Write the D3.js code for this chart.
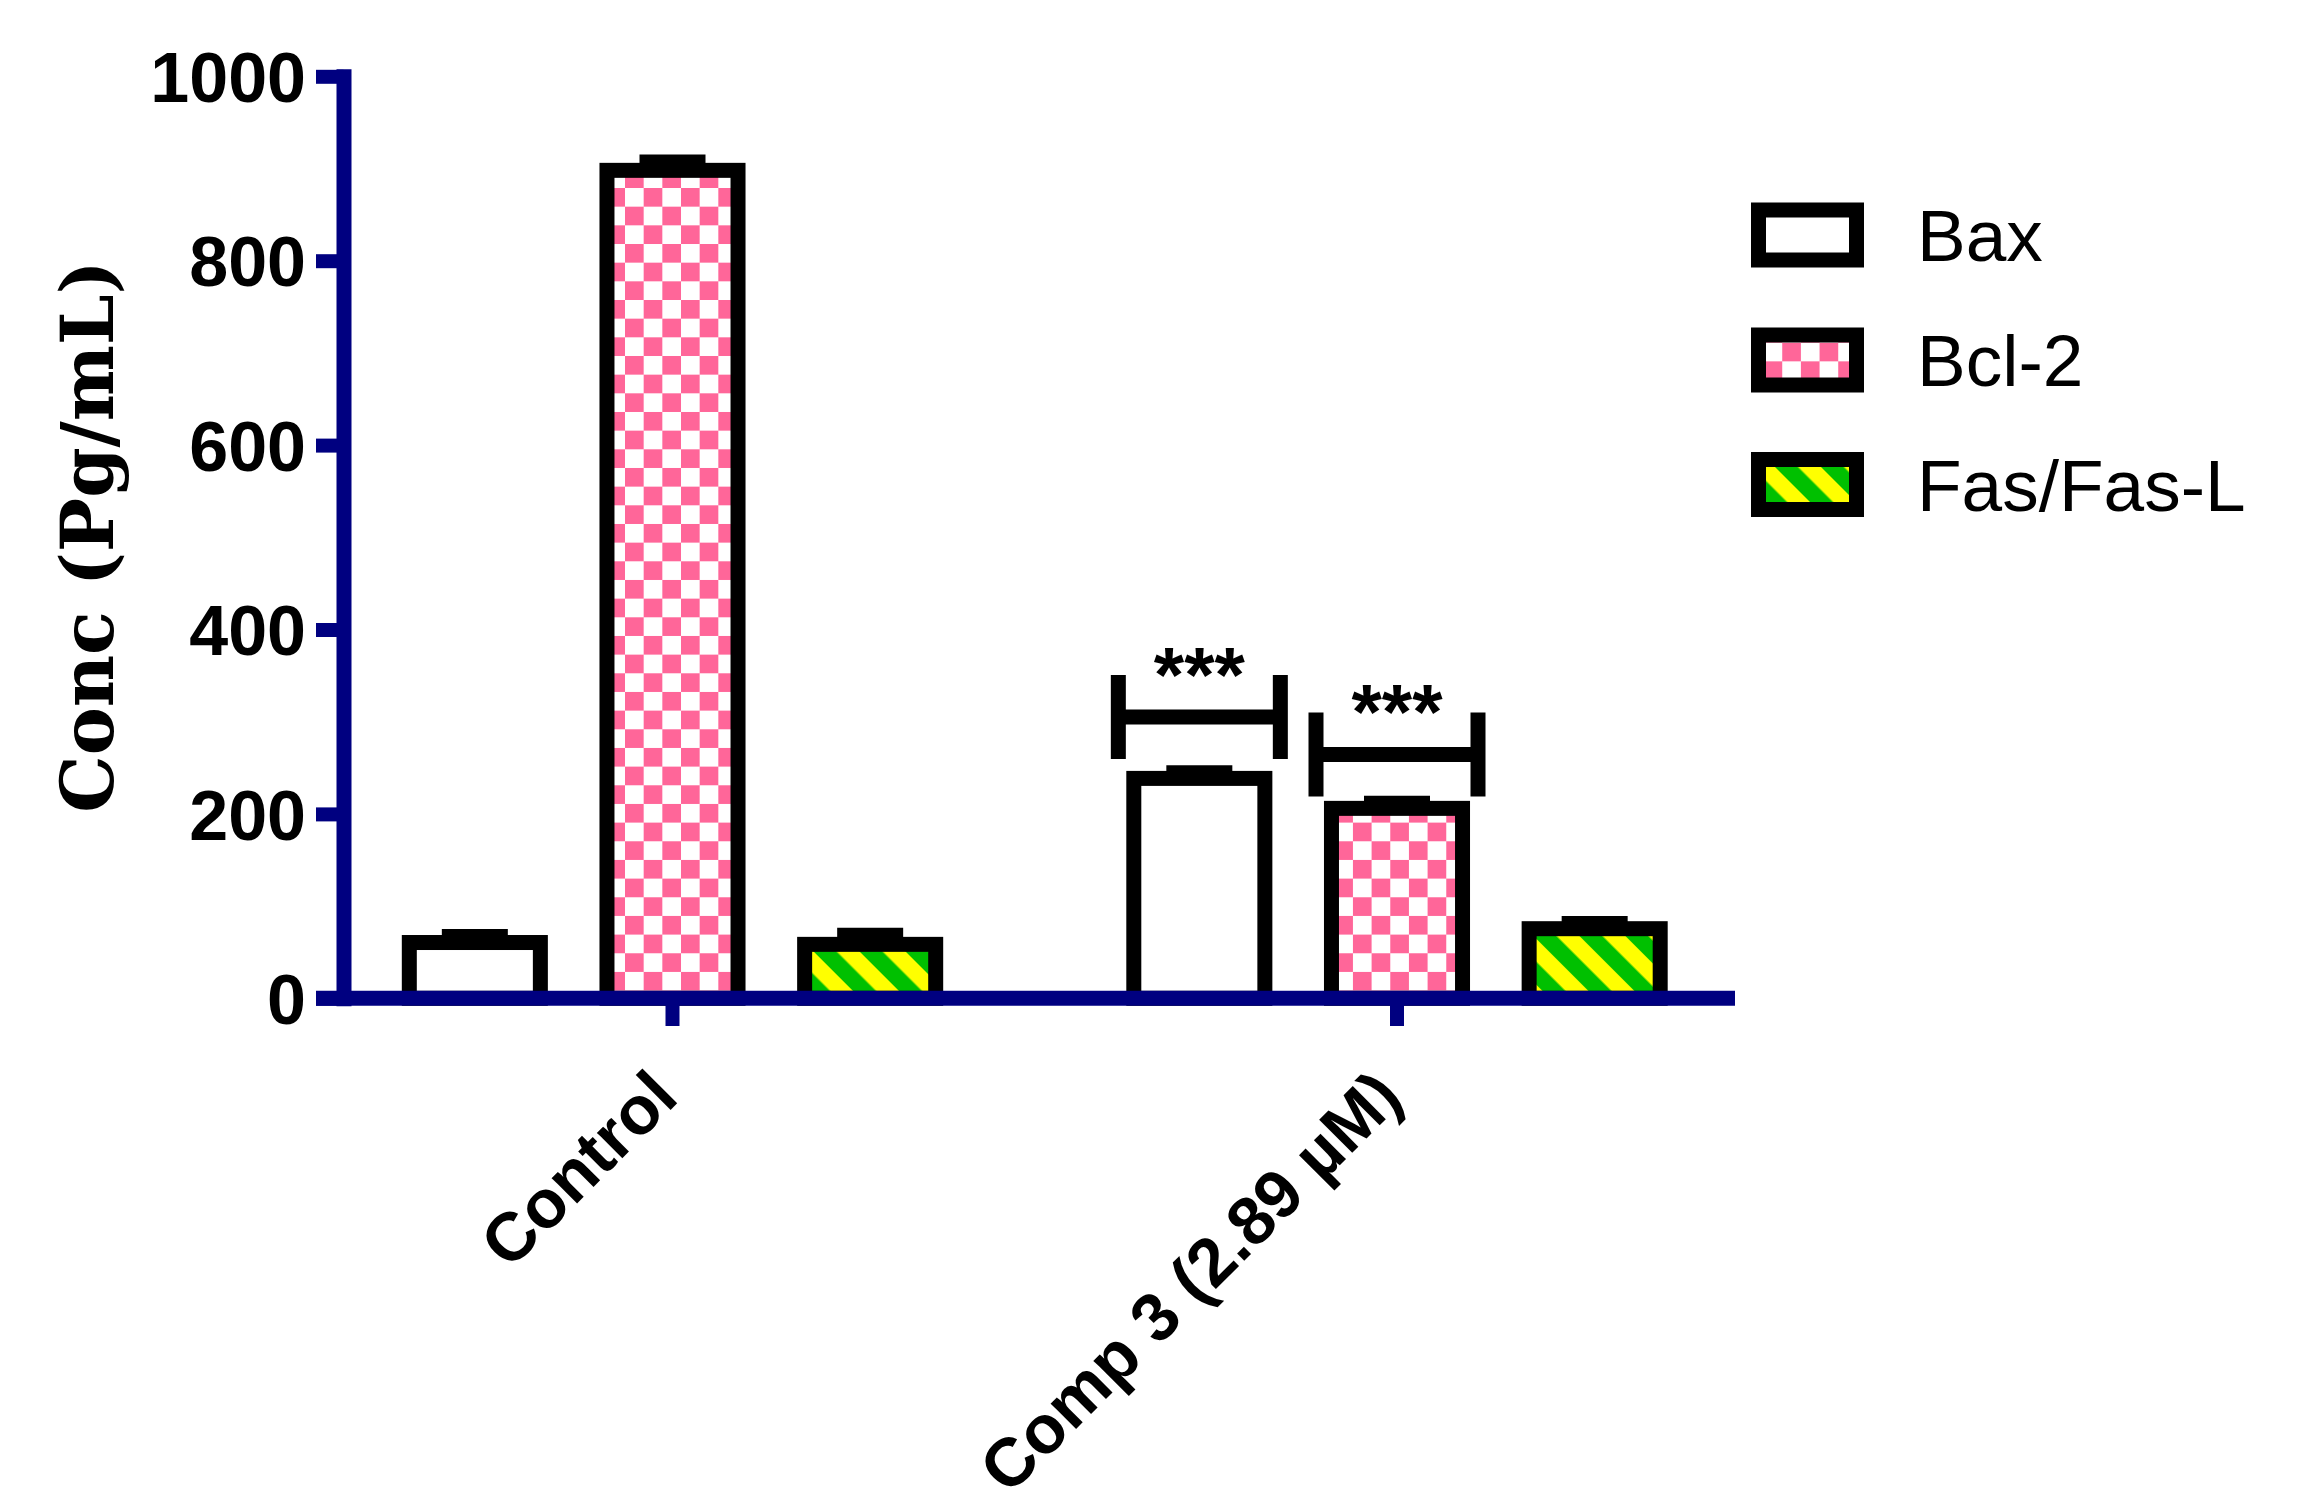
<!DOCTYPE html>
<html>
<head>
<meta charset="utf-8">
<script src="https://cdnjs.cloudflare.com/ajax/libs/d3/7.8.5/d3.min.js"></script>
<style>
  body { margin: 0; background: #fff; }
</style>
</head>
<body>
<div id="chart"></div>
<script>
// chart data
var groups = ["Control", "Comp 3 (2.89 µM)"];
var series = ["Bax", "Bcl-2", "Fas/Fas-L"];
var baxValues = [60.5, 238.5];
var bcl2Values = [898, 206];
var fasValues = [58.5, 75.5];
var baxErrors = [6.5, 6];
var bcl2Errors = [9, 5.5];
var fasErrors = [10, 5.5];
var yTicks = [0, 200, 400, 600, 800, 1000];
// significance brackets: group, series, height (data units), label
var sigGroups = ["Comp 3 (2.89 µM)", "Comp 3 (2.89 µM)"];
var sigSeries = ["Bax", "Bcl-2"];
var sigLevels = [305, 264.5];
var sigLabels = ["***", "***"];

var svgWidth = 2305;
var svgHeight = 1509;

var navy = "#000080";

var svg = d3.select("#chart")
  .append("svg")
  .attr("width", svgWidth)
  .attr("height", svgHeight)
  .style("background", "#fff");

// patterns for the bar fills
var defs = svg.append("defs");

var checker = defs.append("pattern")
  .attr("id", "checker")
  .attr("patternUnits", "userSpaceOnUse")
  .attr("x", 625)
  .attr("y", 188)
  .attr("width", 37.33)
  .attr("height", 37.33);
checker.append("rect").attr("width", 37.33).attr("height", 37.33).attr("fill", "#fff");
checker.append("rect").attr("x", 18.67).attr("y", 0).attr("width", 18.67).attr("height", 18.67).attr("fill", "#ff6699");
checker.append("rect").attr("x", 0).attr("y", 18.67).attr("width", 18.67).attr("height", 18.67).attr("fill", "#ff6699");

var stripes = defs.append("pattern")
  .attr("id", "stripes")
  .attr("patternUnits", "userSpaceOnUse")
  .attr("width", 32.5)
  .attr("height", 32.5)
  .attr("patternTransform", "rotate(-45)");
stripes.append("rect").attr("width", 32.5).attr("height", 32.5).attr("fill", "#ffff00");
stripes.append("rect").attr("width", 16.25).attr("height", 32.5).attr("fill", "#00c000");

var fills = {"Bax": "#fff", "Bcl-2": "url(#checker)", "Fas/Fas-L": "url(#stripes)"};

// build rows from the arrays
var valuesBySeries = {"Bax": baxValues, "Bcl-2": bcl2Values, "Fas/Fas-L": fasValues};
var errorsBySeries = {"Bax": baxErrors, "Bcl-2": bcl2Errors, "Fas/Fas-L": fasErrors};
var rows = [];
groups.forEach(function(g, i) {
  series.forEach(function(s) {
    rows.push({group: g, series: s, value: valuesBySeries[s][i], error: errorsBySeries[s][i]});
  });
});

// scales
var yScale = d3.scaleLinear()
  .domain([0, 1000])
  .range([998.3, 76.3]);

var x0 = d3.scaleBand()
  .domain(groups)
  .range([310.25, 1759.25]);

var x1 = d3.scaleBand()
  .domain(series)
  .range([-296.5, 296.5])
  .paddingInner(0.337)
  .paddingOuter(0.1685);

function barCenter(g, s) {
  return x0(g) + x0.bandwidth() / 2 + x1(s) + x1.bandwidth() / 2;
}

// bars
svg.append("g")
  .selectAll("rect")
  .data(rows)
  .enter()
  .append("rect")
  .attr("x", d => barCenter(d.group, d.series) - x1.bandwidth() / 2)
  .attr("y", d => yScale(d.value))
  .attr("width", x1.bandwidth())
  .attr("height", d => yScale(0) - yScale(d.value))
  .attr("fill", d => fills[d.series])
  .attr("stroke", "#000")
  .attr("stroke-width", 15);

// error bars (upper only)
var errGroup = svg.append("g")
  .attr("stroke", "#000")
  .attr("stroke-width", 15);

errGroup.selectAll(".err-v")
  .data(rows)
  .enter()
  .append("line")
  .attr("x1", d => barCenter(d.group, d.series))
  .attr("x2", d => barCenter(d.group, d.series))
  .attr("y1", d => yScale(d.value))
  .attr("y2", d => yScale(d.value + d.error));

errGroup.selectAll(".err-cap")
  .data(rows)
  .enter()
  .append("line")
  .attr("x1", d => barCenter(d.group, d.series) - 33)
  .attr("x2", d => barCenter(d.group, d.series) + 33)
  .attr("y1", d => yScale(d.value + d.error))
  .attr("y2", d => yScale(d.value + d.error));

// y axis
var leftAxis = d3.axisLeft(yScale)
  .tickValues(yTicks)
  .tickFormat(d3.format("d"))
  .tickSize(27.5)
  .tickSizeOuter(0)
  .tickPadding(10);

var yAxis = svg.append("g")
  .attr("transform", "translate(343.5, 0)")
  .call(leftAxis);

yAxis.select(".domain")
  .attr("stroke", navy)
  .attr("stroke-width", 15)
  .attr("stroke-linecap", "square");
yAxis.selectAll(".tick line")
  .attr("stroke", navy)
  .attr("stroke-width", 14);
yAxis.selectAll(".tick text")
  .attr("dy", "0.36em")
  .attr("fill", "#000")
  .style("font-family", "'Liberation Sans', Arial, sans-serif")
  .style("font-weight", "bold")
  .style("font-size", "70px");

// x axis line + category ticks
svg.append("line")
  .attr("x1", 316)
  .attr("x2", 1735)
  .attr("y1", yScale(0))
  .attr("y2", yScale(0))
  .attr("stroke", navy)
  .attr("stroke-width", 15);

var bottomAxis = d3.axisBottom(x0)
  .tickSize(27.7)
  .tickFormat("");

var xAxis = svg.append("g")
  .attr("transform", `translate(0, ${yScale(0)})`)
  .call(bottomAxis);
xAxis.select(".domain").remove();
xAxis.selectAll(".tick line")
  .attr("stroke", navy)
  .attr("stroke-width", 14);

// rotated category labels
svg.append("g")
  .selectAll("text")
  .data(groups)
  .enter()
  .append("text")
  .attr("transform", d => `translate(${x0(d) + x0.bandwidth() / 2 + 8}, 1100) rotate(-45)`)
  .attr("text-anchor", "end")
  .style("font-family", "'Liberation Sans', Arial, sans-serif")
  .style("font-weight", "bold")
  .style("font-size", "68px")
  .text(d => d);

// y axis title
svg.append("text")
  .attr("transform", "translate(113, 536.5) rotate(-90)")
  .attr("text-anchor", "middle")
  .style("font-family", "'DejaVu Serif', serif")
  .style("font-weight", "bold")
  .style("font-size", "72px")
  .text("Conc (Pg/mL)");

// significance brackets
sigLevels.forEach(function(level, i) {
  var cx = barCenter(sigGroups[i], sigSeries[i]);
  var by = yScale(level);
  var br = svg.append("g")
    .attr("stroke", "#000")
    .attr("stroke-width", 15)
    .attr("fill", "none");
  br.append("line").attr("x1", cx - 81).attr("x2", cx + 81).attr("y1", by).attr("y2", by);
  br.append("line").attr("x1", cx - 81).attr("x2", cx - 81).attr("y1", by - 42).attr("y2", by + 42);
  br.append("line").attr("x1", cx + 81).attr("x2", cx + 81).attr("y1", by - 42).attr("y2", by + 42);
  svg.append("text")
    .attr("x", cx)
    .attr("y", by - 15)
    .attr("text-anchor", "middle")
    .style("font-family", "'Liberation Sans', Arial, sans-serif")
    .style("font-weight", "bold")
    .style("font-size", "78px")
    .text(sigLabels[i]);
});

// legend
var legendRowY = [235, 360, 484.5];
var legend = svg.append("g")
  .selectAll("g")
  .data(series)
  .enter()
  .append("g")
  .attr("transform", (d, i) => `translate(0, ${legendRowY[i]})`);

legend.append("rect")
  .attr("x", 1758.5)
  .attr("y", -25)
  .attr("width", 98)
  .attr("height", 50)
  .attr("fill", d => fills[d])
  .attr("stroke", "#000")
  .attr("stroke-width", 15);

legend.append("text")
  .attr("x", 1917)
  .attr("dy", "0.36em")
  .style("font-family", "'Liberation Sans', Arial, sans-serif")
  .style("font-size", "73px")
  .text(d => d);
</script>
</body>
</html>
